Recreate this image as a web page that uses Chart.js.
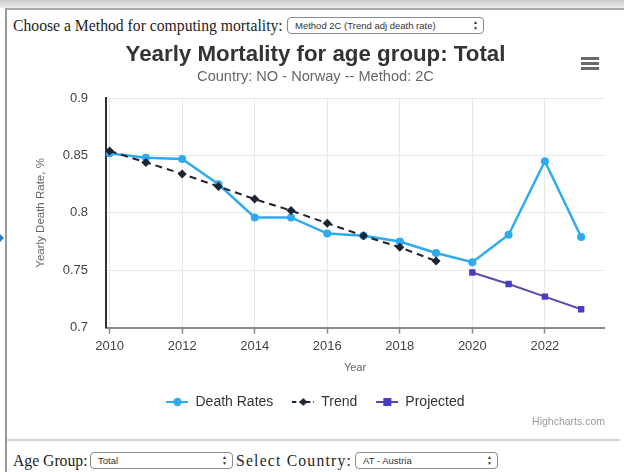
<!DOCTYPE html>
<html>
<head>
<meta charset="utf-8">
<script src="https://cdn.jsdelivr.net/npm/chart.js@4/dist/chart.umd.min.js"></script>
<style>
  html, body { margin: 0; padding: 0; background: #fff; }
  body { width: 624px; height: 472px; position: relative; overflow: hidden; font-family: "Liberation Sans", Arial, sans-serif; }
  .topband { position: absolute; left: 0; top: 0; width: 624px; height: 8px; background: linear-gradient(#c9c9c9, #ececec); }
  .frame { position: absolute; left: 5px; top: 8px; width: 640px; height: 480px; border-left: 2px solid #9a9a9a; border-top: 2px solid #a8a8a8; box-sizing: border-box; }
  .arrow { position: absolute; left: 0; top: 234px; width: 0; height: 0; border-top: 4px solid transparent; border-bottom: 4px solid transparent; border-left: 4px solid #2f7fc4; }
  .serif { position: absolute; font-family: "Liberation Serif", "Times New Roman", serif; font-size: 15.7px; color: #1e1e1e; white-space: nowrap; line-height: 18px; }
  .sel { position: absolute; height: 15px; border: 1px solid #8a8a8a; border-radius: 4px; font-size: 9.5px; line-height: 15px; color: #333; padding-left: 7px; box-sizing: content-box; background: #fff; white-space: nowrap; }
  .sel .ud { position: absolute; right: 5px; top: 2px; font-size: 5px; line-height: 5.5px; color: #333; }
  .rule { position: absolute; left: 7px; top: 439px; width: 613px; height: 2px; background: #d4d4d4; }
  .menu { position: absolute; left: 581px; width: 18px; height: 2.5px; background: #6a6a6a; }
  .credit { position: absolute; right: 19px; top: 415px; font-size: 10.5px; color: #9a9a9a; }
  #wrap { position: absolute; left: 0; top: 0; width: 624px; height: 432px; }
</style>
</head>
<body>
<div class="topband"></div>
<div class="frame"></div>
<div class="arrow"></div>

<div class="serif" style="left:13px; top:17px;">Choose a Method for computing mortality:</div>
<div class="sel" style="left:287px; top:17px; width:188px;">Method 2C (Trend adj death rate)<span class="ud">▲<br>▼</span></div>

<div id="wrap"><canvas id="chart" width="624" height="432"></canvas></div>

<div class="menu" style="top:57px;"></div>
<div class="menu" style="top:62px;"></div>
<div class="menu" style="top:67px;"></div>
<div class="credit">Highcharts.com</div>

<div class="rule"></div>
<div class="serif" style="left:13px; top:452px;">Age Group:</div>
<div class="sel" style="left:90px; top:452px; width:134px;">Total<span class="ud">▲<br>▼</span></div>
<div class="serif" style="left:236px; top:452px; letter-spacing:1.2px;">Select Country:</div>
<div class="sel" style="left:355px; top:452px; width:134px;">AT - Austria<span class="ud">▲<br>▼</span></div>

<script>
// Yearly mortality, Norway, method 2C
const deathYears = [2010, 2011, 2012, 2013, 2014, 2015, 2016, 2017, 2018, 2019, 2020, 2021, 2022, 2023];
const deathRates = [0.852, 0.848, 0.847, 0.825, 0.796, 0.796, 0.782, 0.780, 0.775, 0.765, 0.757, 0.781, 0.845, 0.779];

const trendYears = [2010, 2011, 2012, 2013, 2014, 2015, 2016, 2017, 2018, 2019];
const trendRates = [0.854, 0.844, 0.834, 0.823, 0.812, 0.802, 0.791, 0.780, 0.770, 0.758];

const projYears = [2020, 2021, 2022, 2023];
const projRates = [0.748, 0.738, 0.727, 0.716];

const xTicks = [2010, 2012, 2014, 2016, 2018, 2020, 2022];
const yTicks = [0.7, 0.75, 0.8, 0.85, 0.9];

const COLORS = {
  death: '#2eaaf0',
  trend: '#1c2633',
  projLine: '#5a4cae',
  projPoint: '#4a3bc6'
};

const toPoints = (xs, ys) => xs.map((x, i) => ({ x: x, y: ys[i] }));

// Legend symbol: a short line with the series marker in the middle
function legendSymbol(color, markerColor, shape, dashed) {
  const c = document.createElement('canvas');
  c.width = 22; c.height = 10;
  const g = c.getContext('2d');
  g.strokeStyle = color;
  g.lineWidth = 2;
  if (dashed) g.setLineDash([4, 3]);
  g.beginPath(); g.moveTo(0, 5); g.lineTo(22, 5); g.stroke();
  g.setLineDash([]);
  g.fillStyle = markerColor;
  g.beginPath();
  if (shape === 'circle') { g.arc(11, 5, 4.2, 0, Math.PI * 2); }
  else if (shape === 'diamond') { g.moveTo(11, 1); g.lineTo(15, 5); g.lineTo(11, 9); g.lineTo(7, 5); g.closePath(); }
  else { g.rect(7, 1, 8, 8); }
  g.fill();
  return c;
}

const legendIcons = [
  legendSymbol(COLORS.death, COLORS.death, 'circle', false),
  legendSymbol(COLORS.trend, COLORS.trend, 'diamond', true),
  legendSymbol(COLORS.projLine, COLORS.projPoint, 'square', false)
];

const FONT = "'Liberation Sans', Arial, Helvetica, sans-serif";

new Chart(document.getElementById('chart'), {
  type: 'line',
  data: {
    datasets: [
      {
        label: 'Death Rates',
        data: toPoints(deathYears, deathRates),
        borderColor: COLORS.death,
        backgroundColor: COLORS.death,
        borderWidth: 2.5,
        pointStyle: 'circle',
        pointRadius: 4,
        pointBorderWidth: 0,
        order: 2
      },
      {
        label: 'Trend',
        data: toPoints(trendYears, trendRates),
        borderColor: COLORS.trend,
        backgroundColor: COLORS.trend,
        borderWidth: 2,
        borderDash: [7, 5],
        pointStyle: 'rectRot',
        pointRadius: 4.5,
        pointBorderWidth: 0,
        order: 1
      },
      {
        label: 'Projected',
        data: toPoints(projYears, projRates),
        borderColor: COLORS.projLine,
        backgroundColor: COLORS.projPoint,
        borderWidth: 2,
        pointStyle: 'rect',
        pointRadius: 4.5,
        pointBorderWidth: 0,
        order: 3
      }
    ]
  },
  options: {
    responsive: false,
    animation: false,
    layout: { padding: { top: 41, left: 27, right: 20, bottom: 13 } },
    plugins: {
      title: {
        display: true,
        text: 'Yearly Mortality for age group: Total',
        color: '#333333',
        font: { family: FONT, size: 22.3, weight: 'bold' },
        padding: { top: 0, bottom: 0 }
      },
      subtitle: {
        display: true,
        text: 'Country: NO - Norway -- Method: 2C',
        color: '#666666',
        font: { family: FONT, size: 14.6 },
        padding: { top: 0.5, bottom: 12.4 }
      },
      legend: {
        position: 'bottom',
        labels: {
          color: '#333333',
          font: { family: FONT, size: 14 },
          padding: 19,
          usePointStyle: true,
          pointStyleWidth: 22,
          generateLabels: (chart) => chart.data.datasets.map((ds, i) => ({
            text: ds.label,
            pointStyle: legendIcons[i],
            fontColor: '#333333',
            hidden: false,
            datasetIndex: i,
            lineWidth: 0
          }))
        }
      },
      tooltip: { enabled: false }
    },
    scales: {
      x: {
        type: 'linear',
        min: 2009.9,
        max: 2023.63,
        afterBuildTicks: (scale) => { scale.ticks = xTicks.map(v => ({ value: v })); },
        ticks: {
          color: '#444444',
          font: { family: FONT, size: 13 },
          padding: 5,
          maxRotation: 0,
          callback: (v) => String(v)
        },
        grid: { color: '#e8e8e8', lineWidth: 1, tickLength: 6, tickColor: '#8a8a8a', tickWidth: 1.5 },
        border: { color: '#8a8a8a', width: 2 },
        title: {
          display: true,
          text: 'Year',
          color: '#666666',
          font: { family: FONT, size: 11 },
          padding: { top: 2, bottom: 1.6 }
        }
      },
      y: {
        type: 'linear',
        min: 0.7,
        max: 0.9,
        afterBuildTicks: (scale) => { scale.ticks = yTicks.map(v => ({ value: v })); },
        afterFit: (scale) => { scale.width = 79; },
        ticks: {
          color: '#444444',
          font: { family: FONT, size: 13 },
          padding: 18,
          callback: (v) => String(v)
        },
        grid: { color: '#e8e8e8', lineWidth: 1, drawTicks: false },
        border: { color: '#333333', width: 2 },
        title: {
          display: true,
          text: 'Yearly Death Rate, %',
          color: '#666666',
          font: { family: FONT, size: 11.5 },
          padding: { top: 7, bottom: 4 }
        }
      }
    }
  }
});
</script>
</body>
</html>
